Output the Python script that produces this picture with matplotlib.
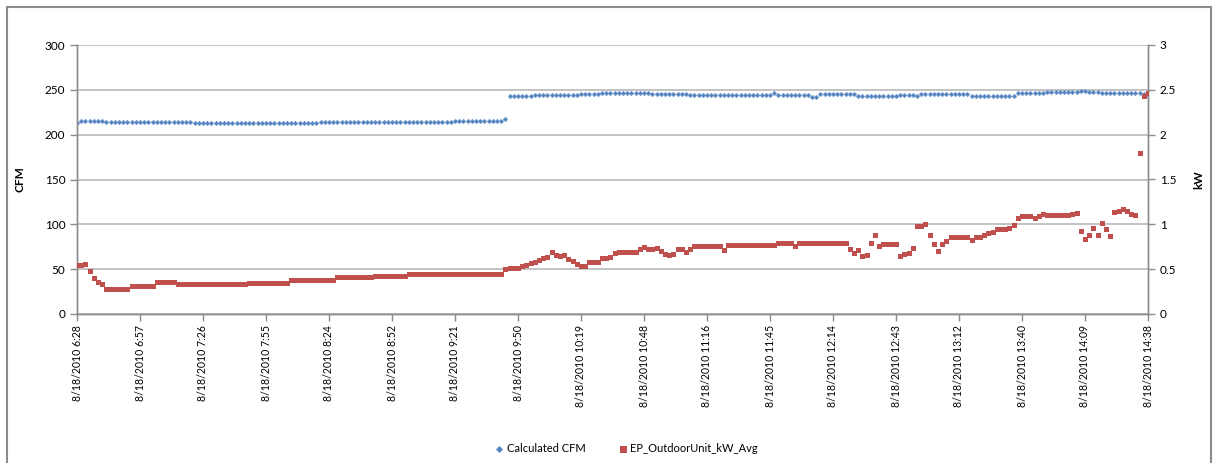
import matplotlib
matplotlib.use("Agg")
import matplotlib.pyplot as plt
from matplotlib.patches import Rectangle

plt.rcParams['font.family'] = ['Lato', 'DejaVu Sans']

# ---- data -------------------------------------------------------------
tick_labels = ["8/18/2010 6:28", "8/18/2010 6:57", "8/18/2010 7:26", "8/18/2010 7:55",
               "8/18/2010 8:24", "8/18/2010 8:52", "8/18/2010 9:21", "8/18/2010 9:50",
               "8/18/2010 10:19", "8/18/2010 10:48", "8/18/2010 11:16", "8/18/2010 11:45",
               "8/18/2010 12:14", "8/18/2010 12:43", "8/18/2010 13:12", "8/18/2010 13:40",
               "8/18/2010 14:09", "8/18/2010 14:38"]
points_per_tick = 15

cfm = ([213.3] + [215.6]*6 + [213.8]*14 + [214.5]*7 + [213.3]*30 + [214.5]*15 +
       [214.0]*17 + [215.6]*12 + [217.5] + [243.5]*6 + [244.6]*11 + [245.3]*5 +
       [246.0]*12 + [245.0]*9 + [244.0]*10 + [244.6]*10 + [246.0] + [244.3]*8 +
       [242.5]*2 + [245.0]*9 + [243.5]*10 + [244.0]*4 + [242.6] + [245.0]*12 +
       [243.0]*11 + [246.0]*7 + [248.0]*8 + [249.0]*2 + [248.0]*3 + [247.0]*10 +
       [245.0, 244.0])

kw = ([0.55, 0.55, 0.56, 0.48, 0.40, 0.36, 0.34] + [0.28]*6 + [0.315]*6 + [0.355]*5 +
      [0.335]*17 + [0.35]*10 + [0.375]*11 + [0.416]*9 + [0.427]*8 + [0.442]*10 +
      [0.45]*13 +
      [0.50, 0.51, 0.51, 0.51, 0.53, 0.55, 0.57, 0.58, 0.60, 0.62, 0.64, 0.695, 0.66,
       0.647, 0.655, 0.61, 0.595, 0.56, 0.54, 0.53, 0.575, 0.58, 0.583, 0.62, 0.62,
       0.64, 0.68] +
      [0.695]*5 +
      [0.72, 0.75, 0.73, 0.73, 0.74, 0.70, 0.665, 0.66, 0.67, 0.73, 0.73, 0.69, 0.72,
       0.755] +
      [0.758]*6 + [0.715] + [0.775]*12 + [0.79]*4 + [0.76] + [0.795]*11 +
      [0.79, 0.72, 0.675, 0.71, 0.65, 0.655, 0.79, 0.88, 0.76, 0.78, 0.78, 0.78, 0.78,
       0.65, 0.67, 0.675, 0.74, 0.98, 0.98, 1.00, 0.88, 0.78, 0.70, 0.78, 0.815,
       0.855, 0.855, 0.855, 0.855, 0.855, 0.825, 0.86, 0.86, 0.88, 0.907, 0.91,
       0.944, 0.944, 0.944, 0.963, 0.99, 1.067, 1.093, 1.093, 1.093, 1.076, 1.093,
       1.115] +
      [1.104]*6 +
      [1.12, 1.123, 0.926, 0.84, 0.88, 0.96, 0.88, 1.018, 0.95, 0.87, 1.14, 1.145,
       1.167, 1.15, 1.12, 1.104, 1.79, 2.43, 2.47])

x = list(range(len(cfm)))

# ---- figure -----------------------------------------------------------
W, H = 1218, 463
fig = plt.figure(figsize=(W/100, H/100), dpi=100)
ax = fig.add_axes([77/W, 1-314/H, (1148-77)/W, (314-45)/H])
ax2 = ax.twinx()

blue = '#4F81BD'
red = '#C0504D'
grid_c = '#B3B3B3'
axis_c = '#8C8C8C'

ax.plot(x, cfm, linestyle='none', marker='D', markersize=2.4, color=blue,
        markeredgewidth=0.4, markeredgecolor='#7EA3D3', label='Calculated CFM', zorder=3)
ax2.plot(x, kw, linestyle='none', marker='s', markersize=3.6, color=red,
         markeredgewidth=0, label='EP_OutdoorUnit_kW_Avg', zorder=3)

ax.set_xlim(0, len(cfm)-1)
ax.set_ylim(0, 300)
ax2.set_ylim(0, 3)
ax.set_yticks(range(0, 301, 50))
ax2.set_yticks([0, 0.5, 1, 1.5, 2, 2.5, 3])
ax2.set_yticklabels(['0', '0.5', '1', '1.5', '2', '2.5', '3'])
ax.set_xticks([i*points_per_tick for i in range(len(tick_labels))])
ax.set_xticklabels(tick_labels, rotation=90, fontsize=7.6)

ax.grid(axis='y', color=grid_c, linewidth=1.1)
ax.set_axisbelow(True)
for a in (ax, ax2):
    a.spines['top'].set_visible(False)
    for s in ('left', 'right', 'bottom'):
        a.spines[s].set_color(axis_c)
        a.spines[s].set_linewidth(1.0)
    a.tick_params(colors=axis_c, labelcolor='#000000', direction='out', length=5, width=1,
                  labelsize=8.5)
ax.tick_params(axis='x', labelsize=7.6, pad=3)

ax.set_ylabel('CFM', fontsize=8.5, fontweight='bold', labelpad=14)
ax2.set_ylabel('kW', fontsize=8.5, fontweight='bold', labelpad=12)

h1, l1 = ax.get_legend_handles_labels()
h2, l2 = ax2.get_legend_handles_labels()
leg = fig.legend(h1 + h2, l1 + l2, loc='center', bbox_to_anchor=(627/W, 1-449/H),
                 ncol=2, frameon=False, fontsize=8, markerscale=1.4,
                 handlelength=0.6, handletextpad=0.4, columnspacing=3.0)

fig.patches.append(Rectangle((7/W, -0.05), (1211-7)/W, 1.05 - 7/H,
                             transform=fig.transFigure, fill=False,
                             edgecolor='#8C8C8C', linewidth=1.5))

fig.savefig('out.png', dpi=100)
